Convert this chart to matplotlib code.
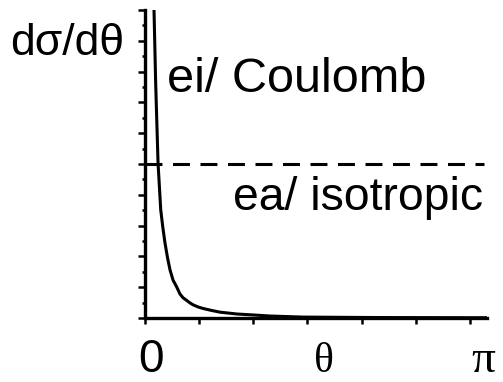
import numpy as np
import matplotlib
matplotlib.use('Agg')
import matplotlib.pyplot as plt

# values
theta = [0.082, 0.087, 0.103, 0.126, 0.152, 0.172, 0.193, 0.218, 0.242, 0.271,
         0.306, 0.338, 0.367, 0.403, 0.435, 0.464, 0.512, 0.561, 0.638, 0.725,
         0.889, 1.044, 1.208, 1.527, 2.27, 3.1416, 3.31]
coulomb = [11.0, 10.0, 7.63, 5.03, 3.51, 2.95, 2.44, 1.95, 1.56, 1.23,
           1.01, 0.78, 0.66, 0.57, 0.49, 0.43, 0.36, 0.31, 0.25, 0.19,
           0.13, 0.10, 0.065, 0.03, 0.015, 0.01, 0.01]
isotropic = 5.0

x_ticks = [k * np.pi / 6 for k in range(7)]
y_major = np.arange(0, 11, 1)
y_minor = np.arange(0.5, 10, 1)

plt.rcParams['lines.scale_dashes'] = False

fig = plt.figure(figsize=(5.03, 3.82), dpi=100)
ax = fig.add_axes([0.2883, 0.1675, 0.968 - 0.2883, 0.9738 - 0.1675])

ax.plot(theta, coulomb, color='black', lw=2.2, solid_capstyle='butt', solid_joinstyle='round')
ax.plot([0, 3.28], [isotropic, isotropic], color='black', lw=2.2,
        dashes=(12.2, 7.6), dash_capstyle='butt')

ax.set_xlim(0, 3.306)
ax.set_ylim(0, 10)

for s in ['top', 'right']:
    ax.spines[s].set_visible(False)
for s in ['left', 'bottom']:
    ax.spines[s].set_linewidth(2.4)

ax.set_xticks(x_ticks)
ax.set_xticklabels([])
ax.set_yticks(y_major)
ax.set_yticks(y_minor, minor=True)
ax.set_yticklabels([])
ax.tick_params(axis='x', direction='out', length=4.3, width=1.8)
ax.tick_params(axis='y', which='major', direction='out', length=5, width=1.8)
ax.tick_params(axis='y', which='minor', direction='out', length=2.5, width=1.8)

sans = ['Liberation Sans', 'DejaVu Sans']
serif = ['Liberation Serif', 'DejaVu Serif']

fig.text(10 / 503, 1 - 55 / 382, 'dσ/dθ', family=sans, fontsize=32, ha='left', va='baseline')
fig.text(167 / 503, 1 - 92 / 382, 'ei/ Coulomb', family=sans, fontsize=35, ha='left', va='baseline')
fig.text(483 / 503, 1 - 210 / 382, 'ea/ isotropic', family=sans, fontsize=33.3, ha='right', va='baseline')
fig.text(151 / 503, 1 - 372 / 382, '0', family=sans, fontsize=33, ha='center', va='baseline')
fig.text(324 / 503, 1 - 372 / 382, 'θ', family=serif, fontsize=30, ha='center', va='baseline')
fig.text(483 / 503, 1 - 372 / 382, 'π', family=serif, fontsize=34, ha='center', va='baseline')

fig.savefig('out.png', dpi=100)
